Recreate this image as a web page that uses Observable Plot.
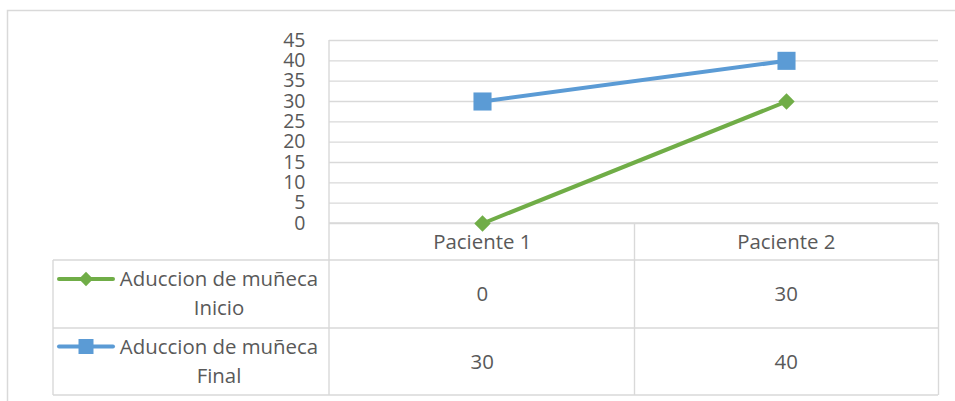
<!DOCTYPE html>
<html>
<head>
<meta charset="utf-8">
<script src="https://cdn.jsdelivr.net/npm/d3@7"></script>
<script src="https://cdn.jsdelivr.net/npm/@observablehq/plot@0.6"></script>
<style>
  html, body { margin: 0; padding: 0; background: #fff; overflow: hidden; }
  #chart svg { display: block; }
</style>
</head>
<body>
<div id="chart"></div>
<script>
// ---- data ----
const categories = ["Paciente 1", "Paciente 2"];
const seriesNames = ["Aduccion de muñeca Inicio", "Aduccion de muñeca Final"];
const seriesLabelLines = [["Aduccion de muñeca", "Inicio"], ["Aduccion de muñeca", "Final"]];
const inicioValues = [0, 30];
const finalValues = [30, 40];
const yTicks = [0, 5, 10, 15, 20, 25, 30, 35, 40, 45];
const seriesColors = ["#70AD47", "#5B9BD5"];
const seriesSymbols = ["diamond2", "square"];

const seriesValues = [inicioValues, finalValues];
const data = seriesValues.flatMap((vals, s) =>
  vals.map((v, i) => ({ s, series: seriesNames[s], patient: categories[i], value: v }))
);

// ---- style constants ----
const FONT = "'Open Sans', sans-serif";
const TEXT = "#595959";
const GRID = "#D9D9D9";

function borderMark(index, scales, values, dims) {
  const g = d3.create("svg:g");
  g.append("rect")
    .attr("x", 7.5).attr("y", 10.5)
    .attr("width", dims.width + 20).attr("height", dims.height + 20)
    .attr("fill", "none").attr("stroke", GRID).attr("stroke-width", 1.5);
  return g.node();
}

function tableMark(index, scales, values, dims) {
  const x = scales.x, y = scales.y;
  const left = dims.marginLeft;
  const right = dims.width - dims.marginRight;
  const bw = (right - left) / categories.length;
  const top = y(0);
  const rowTops = [top, top + 37, top + 105, top + 172];
  const legendLeft = 53;
  const g = d3.create("svg:g")
    .attr("stroke", GRID).attr("stroke-width", 1.4);

  // vertical lines
  g.append("line").attr("x1", left).attr("x2", left)
    .attr("y1", y(d3.max(yTicks))).attr("y2", rowTops[3]);
  categories.forEach((c) => {
    const xe = x(c) + bw;
    g.append("line").attr("x1", xe).attr("x2", xe)
      .attr("y1", top).attr("y2", rowTops[3]);
  });
  g.append("line").attr("x1", legendLeft).attr("x2", legendLeft)
    .attr("y1", rowTops[1]).attr("y2", rowTops[3]);
  // horizontal lines
  g.append("line").attr("x1", left).attr("x2", right).attr("y1", top).attr("y2", top);
  [1, 2, 3].forEach(r => {
    g.append("line").attr("x1", legendLeft).attr("x2", right)
      .attr("y1", rowTops[r]).attr("y2", rowTops[r]);
  });

  const t = d3.create("svg:g")
    .attr("font-family", FONT).attr("font-size", 20.4).attr("fill", TEXT)
    .attr("stroke", "none").attr("text-anchor", "middle");
  // header
  categories.forEach(c => {
    t.append("text").attr("x", x(c) + bw / 2).attr("y", (rowTops[0] + rowTops[1]) / 2)
      .attr("dy", "0.35em").text(c);
  });
  // values
  seriesValues.forEach((vals, s) => {
    const cy = (rowTops[s + 1] + rowTops[s + 2]) / 2;
    vals.forEach((v, i) => {
      t.append("text").attr("x", x(categories[i]) + bw / 2).attr("y", cy)
        .attr("dy", "0.35em").text(v);
    });
    // legend key
    const ly = cy - 15;
    t.append("line").attr("x1", 59).attr("x2", 113).attr("y1", ly).attr("y2", ly)
      .attr("stroke", seriesColors[s]).attr("stroke-width", 4).attr("stroke-linecap", "round");
    const sym = s === 0 ? d3.symbolDiamond2 : d3.symbolSquare;
    const size = s === 0 ? 130 : 225;
    t.append("path").attr("d", d3.symbol(sym, size)())
      .attr("transform", `translate(86,${ly})`).attr("fill", seriesColors[s]);
    seriesLabelLines[s].forEach((line, k) => {
      t.append("text").attr("x", 219).attr("y", ly + k * 29)
        .attr("dy", "0.35em").text(line);
    });
  });

  const wrap = d3.create("svg:g");
  wrap.append(() => g.node());
  wrap.append(() => t.node());
  return wrap.node();
}

const seriesMarks = seriesValues.flatMap((vals, s) => {
  const rows = data.filter(d => d.s === s);
  return [
    Plot.line(rows, { x: "patient", y: "value", stroke: seriesColors[s], strokeWidth: 4 }),
    Plot.dot(rows, {
      x: "patient", y: "value", symbol: seriesSymbols[s], fill: seriesColors[s],
      stroke: "none", r: s === 0 ? 7.4 : 10.2
    })
  ];
});

const chart = Plot.plot({
  width: 955,
  height: 401,
  marginLeft: 329,
  marginRight: 17,
  marginTop: 40,
  marginBottom: 178,
  style: { fontFamily: FONT, fontSize: "20px", color: TEXT, background: "#fff", overflow: "hidden" },
  x: { type: "band", domain: categories, padding: 0, axis: null },
  y: { domain: [0, 45], axis: null },
  marks: [
    borderMark,
    Plot.gridY(yTicks, { stroke: GRID, strokeOpacity: 1, strokeWidth: 1.4 }),
    tableMark,
    Plot.axisY(yTicks, { label: null, tickSize: 0, tickPadding: 24, fontSize: 19.5, fill: TEXT, textAnchor: "end" }),
    ...seriesMarks
  ]
});

document.getElementById("chart").append(chart);
</script>
</body>
</html>
